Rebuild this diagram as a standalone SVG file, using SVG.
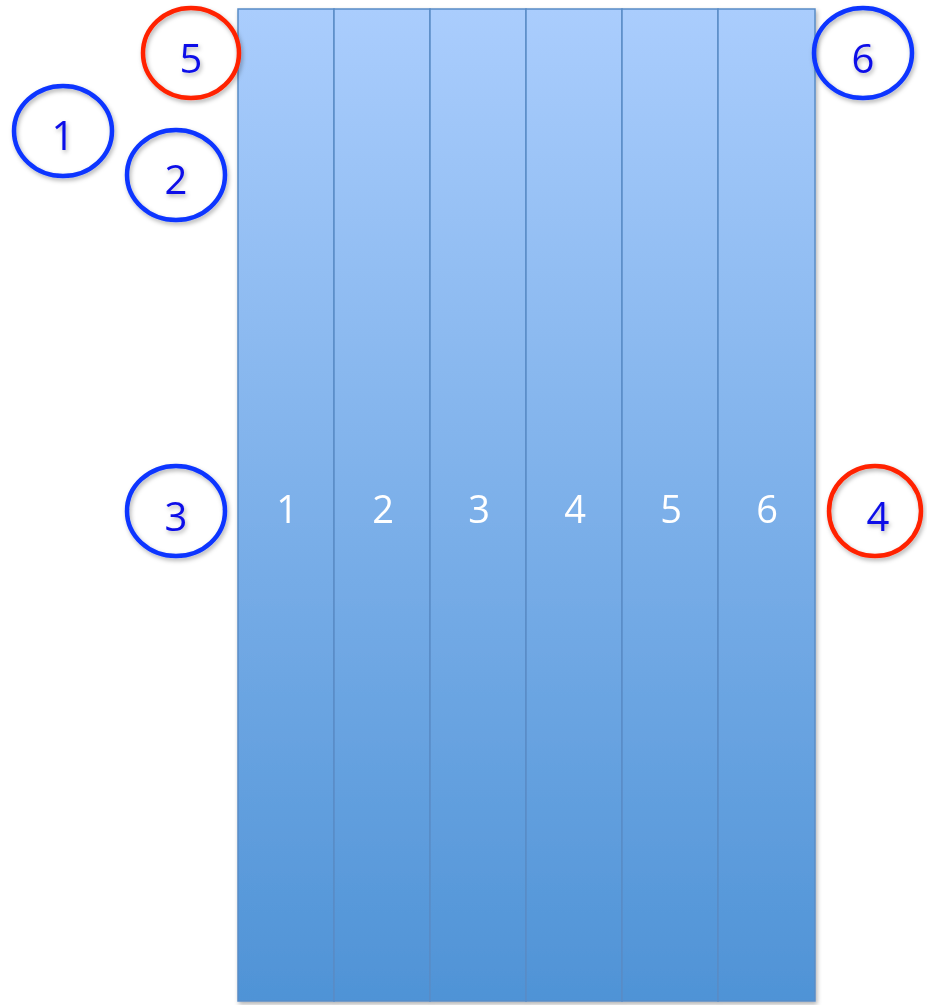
<svg xmlns="http://www.w3.org/2000/svg" width="927" height="1005" viewBox="0 0 927 1005">
<style>
.col{fill:url(#g);stroke:#5a8cc6;stroke-width:1.5}
.cl{font-family:"Open Sans","Liberation Sans",sans-serif;font-size:38px;fill:#ffffff;text-anchor:middle}
.c{fill:none;stroke-width:4.5}
.b{stroke:#0a35ff}
.r{stroke:#ff2200}
.ct{font-family:"Open Sans","Liberation Sans",sans-serif;font-size:40px;fill:#0a10e8;text-anchor:middle}
</style>
<defs>
<linearGradient id="g" x1="0" y1="0" x2="0" y2="1">
<stop offset="0" stop-color="#aacdfd"/>
<stop offset="1" stop-color="#4f93d6"/>
</linearGradient>
<filter id="sh" x="-10%" y="-10%" width="130%" height="130%">
<feDropShadow dx="1.5" dy="2.5" stdDeviation="2" flood-color="#000" flood-opacity="0.3"/>
</filter>
</defs>
<g id="columns" filter="url(#sh)">
<g id="col1"><rect class="col" x="238" y="9" width="96" height="992"/><text class="cl" x="287" y="523">1</text></g>
<g id="col2"><rect class="col" x="334" y="9" width="96" height="992"/><text class="cl" x="383" y="523">2</text></g>
<g id="col3"><rect class="col" x="430" y="9" width="96" height="992"/><text class="cl" x="479" y="523">3</text></g>
<g id="col4"><rect class="col" x="526" y="9" width="96" height="992"/><text class="cl" x="575" y="523">4</text></g>
<g id="col5"><rect class="col" x="622" y="9" width="96" height="992"/><text class="cl" x="671" y="523">5</text></g>
<g id="col6"><rect class="col" x="718" y="9" width="97" height="992"/><text class="cl" x="767" y="523">6</text></g>
</g>
<g id="markers" filter="url(#sh)">
<g id="m5"><ellipse class="c r" cx="191" cy="53" rx="48" ry="45"/><text class="ct" x="191" y="73">5</text></g>
<g id="m1"><ellipse class="c b" cx="63" cy="131" rx="49" ry="45"/><text class="ct" x="63" y="150">1</text></g>
<g id="m2"><ellipse class="c b" cx="176" cy="175" rx="49" ry="45"/><text class="ct" x="176" y="194">2</text></g>
<g id="m6"><ellipse class="c b" cx="863" cy="53" rx="49" ry="45"/><text class="ct" x="863" y="73">6</text></g>
<g id="m3"><ellipse class="c b" cx="176" cy="511" rx="49" ry="45"/><text class="ct" x="176" y="531">3</text></g>
<g id="m4"><ellipse class="c r" cx="875" cy="511" rx="46" ry="45"/><text class="ct" x="878" y="531">4</text></g>
</g>
</svg>
